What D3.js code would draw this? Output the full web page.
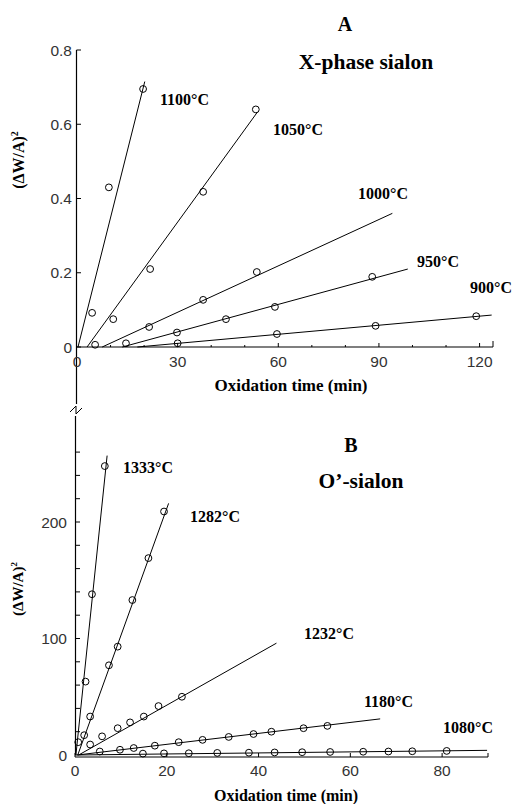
<!DOCTYPE html>
<html>
<head>
<meta charset="utf-8">
<script src="https://cdn.jsdelivr.net/npm/d3@7"></script>
<style>
  body { margin: 0; background: #fff; }
  svg { display: block; }
  .tick-label { font-family: "Liberation Sans", Arial, sans-serif; font-size: 15.5px; fill: #333; }
  .serif-b { font-family: "Liberation Serif", "Times New Roman", serif; font-weight: bold; fill: #000; }
</style>
</head>
<body>
<svg id="chart" width="525" height="804"></svg>
<script>
// Panel A: X-phase sialon, (dW/A)^2 vs oxidation time (min)
const tempsA = ["1100°C", "1050°C", "1000°C", "950°C", "900°C"];
const timeA1100 = [4.5, 9.5, 19.7];
const gainA1100 = [0.092, 0.43, 0.695];
const fitA1100 = [[0.3, 0], [20.2, 0.715]];

const timeA1050 = [5.4, 10.8, 21.8, 37.6, 53.3];
const gainA1050 = [0.006, 0.075, 0.21, 0.418, 0.64];
const fitA1050 = [[3.0, 0], [53.8, 0.633]];

const timeA1000 = [21.5, 37.6, 53.6];
const gainA1000 = [0.054, 0.127, 0.202];
const fitA1000 = [[7.5, 0], [94, 0.36]];

const timeA950 = [14.6, 29.8, 44.4, 59, 88];
const gainA950 = [0.01, 0.039, 0.075, 0.108, 0.189];
const fitA950 = [[13.5, 0], [98.6, 0.21]];

const timeA900 = [30, 59.6, 89, 119];
const gainA900 = [0.01, 0.035, 0.057, 0.083];
const fitA900 = [[18, 0], [123.6, 0.086]];

const ticksAx = [0, 30, 60, 90, 120];
const ticksAy = [0, 0.2, 0.4, 0.6, 0.8];

// Panel B: O'-sialon
const tempsB = ["1333°C", "1282°C", "1232°C", "1180°C", "1080°C"];
const timeB1333 = [0.7, 2.3, 3.7, 6.5];
const gainB1333 = [11, 63, 138, 248];
const fitB1333 = [[0.2, 0], [7.0, 257]];

const timeB1282 = [2.0, 3.3, 7.4, 9.3, 12.5, 16.0, 19.4];
const gainB1282 = [17, 33, 77, 93, 133, 169, 209];
const fitB1282 = [[0.6, 0], [20.4, 216]];

const timeB1232 = [3.3, 5.9, 9.3, 12.0, 15.0, 18.2, 23.3];
const gainB1232 = [9, 16, 23, 28, 33, 42, 50];
const fitB1232 = [[0.8, 0], [43.9, 96]];

const timeB1180 = [5.4, 9.8, 12.8, 17.4, 22.6, 27.8, 33.5, 38.9, 42.8, 49.8, 55];
const gainB1180 = [3, 4.5, 6, 8, 11, 13, 15.5, 18, 20, 23, 25];
const fitB1180 = [[0.5, 0], [66.5, 31]];

const timeB1080 = [14.8, 19.4, 24.8, 31, 37.9, 43.5, 49.5, 55.6, 62.8, 68.3, 73.5, 81];
const gainB1080 = [1.2, 1.4, 1.5, 1.8, 2.0, 2.2, 2.4, 2.6, 2.8, 3.0, 3.2, 3.5];
const fitB1080 = [[0, 0], [89.8, 4]];

const ticksBx = [0, 20, 40, 60, 80];
const ticksBxMinor = [0, 20, 40, 60, 80, 90];
const ticksBy = [0, 100, 200];
const ticksByMinor = [20, 40, 60, 80, 100, 120, 140, 160, 180, 200, 220, 240, 260];

const svg = d3.select("#chart");

function zip(ts, gs) {
  return ts.map((t, i) => ({ t: t, g: gs[i] }));
}

function drawSeries(g, x, y, pts, fit) {
  g.append("line")
    .attr("x1", x(fit[0][0])).attr("y1", y(fit[0][1]))
    .attr("x2", x(fit[1][0])).attr("y2", y(fit[1][1]))
    .attr("stroke", "#000").attr("stroke-width", 1);
  g.selectAll(null)
    .data(pts)
    .enter()
    .append("circle")
    .attr("cx", (d) => x(d.t))
    .attr("cy", (d) => y(d.g))
    .attr("r", 3.4)
    .attr("fill", "none")
    .attr("stroke", "#000")
    .attr("stroke-width", 1);
}

// ---------- Panel A ----------
const xA = d3.scaleLinear().domain([0, 124]).range([77, 493]);
const yA = d3.scaleLinear().domain([0, 0.8]).range([347, 50]);
const gA = svg.append("g");

// y axis, continues down to the break
gA.append("line").attr("x1", 76.5).attr("x2", 76.5).attr("y1", yA(0.8)).attr("y2", 404)
  .attr("stroke", "#000").attr("stroke-width", 1.2);
gA.selectAll(null).data(ticksAy).enter().append("line")
  .attr("x1", 76.5).attr("x2", 81).attr("y1", (d) => yA(d)).attr("y2", (d) => yA(d))
  .attr("stroke", "#000");
gA.selectAll(null).data(ticksAy).enter().append("text")
  .attr("class", "tick-label")
  .attr("x", 72).attr("y", (d) => yA(d) + 5.5)
  .attr("text-anchor", "end")
  .text((d) => (d === 0 ? "0" : d.toFixed(1)));

// x axis
gA.append("line").attr("x1", xA(0)).attr("x2", xA(124)).attr("y1", yA(0)).attr("y2", yA(0))
  .attr("stroke", "#000").attr("stroke-width", 1.2);
gA.selectAll(null).data(d3.range(10, 121, 10)).enter().append("line")
  .attr("x1", (d) => xA(d)).attr("x2", (d) => xA(d))
  .attr("y1", yA(0)).attr("y2", (d) => yA(0) - (d % 30 === 0 ? 4 : 2))
  .attr("stroke", "#000");
gA.append("line").attr("x1", xA(124)).attr("x2", xA(124)).attr("y1", yA(0)).attr("y2", yA(0) - 6)
  .attr("stroke", "#000");
gA.selectAll(null).data(ticksAx).enter().append("text")
  .attr("class", "tick-label")
  .attr("x", (d) => xA(d)).attr("y", 367)
  .attr("text-anchor", "middle")
  .text((d) => d);

drawSeries(gA, xA, yA, zip(timeA1100, gainA1100), fitA1100);
drawSeries(gA, xA, yA, zip(timeA1050, gainA1050), fitA1050);
drawSeries(gA, xA, yA, zip(timeA1000, gainA1000), fitA1000);
drawSeries(gA, xA, yA, zip(timeA950, gainA950), fitA950);
drawSeries(gA, xA, yA, zip(timeA900, gainA900), fitA900);

const labelPosA = [[160, 105], [273, 135], [358, 199], [417, 267], [470, 293]];
gA.selectAll(null).data(tempsA).enter().append("text")
  .attr("class", "serif-b").style("font-size", "16px")
  .attr("x", (d, i) => labelPosA[i][0]).attr("y", (d, i) => labelPosA[i][1])
  .text((d) => d);

gA.append("text").attr("class", "serif-b").style("font-size", "20px")
  .attr("x", 345).attr("y", 31).attr("text-anchor", "middle").text("A");
gA.append("text").attr("class", "serif-b").style("font-size", "21.5px")
  .attr("x", 366).attr("y", 69).attr("text-anchor", "middle").text("X-phase sialon");
gA.append("text").attr("class", "serif-b").style("font-size", "17px")
  .attr("x", 291).attr("y", 391).attr("text-anchor", "middle").text("Oxidation time (min)");
gA.append("text").attr("class", "serif-b").style("font-size", "16px")
  .attr("transform", "translate(24,160) rotate(-90)").attr("text-anchor", "middle")
  .html("(ΔW/A)<tspan dy='-6' font-size='10px'>2</tspan>");

// axis break
svg.append("path")
  .attr("d", "M70,412 L76,406 L76,414 L82,408")
  .attr("fill", "none").attr("stroke", "#000").attr("stroke-width", 1);

// ---------- Panel B ----------
const xB = d3.scaleLinear().domain([0, 90]).range([75, 488]);
const yB = d3.scaleLinear().domain([0, 200]).range([755, 522]);
const gB = svg.append("g");

gB.append("line").attr("x1", 75.5).attr("x2", 75.5).attr("y1", 416).attr("y2", yB(0))
  .attr("stroke", "#000").attr("stroke-width", 1.2);
gB.selectAll(null).data(ticksByMinor).enter().append("line")
  .attr("x1", 75.5).attr("x2", 80).attr("y1", (d) => yB(d)).attr("y2", (d) => yB(d))
  .attr("stroke", "#000");
gB.selectAll(null).data(ticksBy).enter().append("text")
  .attr("class", "tick-label")
  .attr("x", 67).attr("y", (d) => yB(d) + 5.5)
  .attr("text-anchor", "end")
  .text((d) => d);

gB.append("line").attr("x1", xB(0)).attr("x2", xB(90)).attr("y1", yB(0) + 2).attr("y2", yB(0) + 2)
  .attr("stroke", "#000").attr("stroke-width", 1.2);
gB.selectAll(null).data(ticksBxMinor).enter().append("line")
  .attr("x1", (d) => xB(d)).attr("x2", (d) => xB(d))
  .attr("y1", yB(0) + 2).attr("y2", yB(0) - 2)
  .attr("stroke", "#000");
gB.selectAll(null).data(ticksBx).enter().append("text")
  .attr("class", "tick-label")
  .attr("x", (d) => xB(d)).attr("y", 776)
  .attr("text-anchor", "middle")
  .text((d) => d);

drawSeries(gB, xB, yB, zip(timeB1333, gainB1333), fitB1333);
drawSeries(gB, xB, yB, zip(timeB1282, gainB1282), fitB1282);
drawSeries(gB, xB, yB, zip(timeB1232, gainB1232), fitB1232);
drawSeries(gB, xB, yB, zip(timeB1180, gainB1180), fitB1180);
drawSeries(gB, xB, yB, zip(timeB1080, gainB1080), fitB1080);

const labelPosB = [[123, 473], [190, 522], [304, 639], [364, 707], [443, 733]];
gB.selectAll(null).data(tempsB).enter().append("text")
  .attr("class", "serif-b").style("font-size", "16px")
  .attr("x", (d, i) => labelPosB[i][0]).attr("y", (d, i) => labelPosB[i][1])
  .text((d) => d);

gB.append("text").attr("class", "serif-b").style("font-size", "20px")
  .attr("x", 351).attr("y", 452).attr("text-anchor", "middle").text("B");
gB.append("text").attr("class", "serif-b").style("font-size", "21.5px")
  .attr("x", 361).attr("y", 488).attr("text-anchor", "middle").text("O’-sialon");
gB.append("text").attr("class", "serif-b").style("font-size", "16px")
  .attr("x", 286).attr("y", 801).attr("text-anchor", "middle").text("Oxidation time (min)");
gB.append("text").attr("class", "serif-b").style("font-size", "15px")
  .attr("transform", "translate(23,589) rotate(-90)").attr("text-anchor", "middle")
  .html("(ΔW/A)<tspan dy='-6' font-size='9px'>2</tspan>");
</script>
</body>
</html>
